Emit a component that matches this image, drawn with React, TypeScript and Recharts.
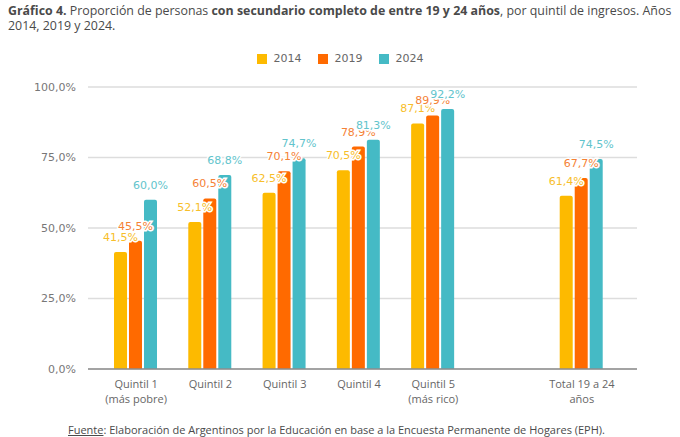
import * as React from "react";
import {
  BarChart,
  Bar,
  XAxis,
  YAxis,
  CartesianGrid,
  LabelList,
} from "recharts";

// categories (empty slot separates quintiles from the total)
const categories = [
  "Quintil 1\n(más pobre)",
  "Quintil 2",
  "Quintil 3",
  "Quintil 4",
  "Quintil 5\n(más rico)",
  " ",
  "Total 19 a 24\naños",
];

const values2014 = [41.5, 52.1, 62.5, 70.5, 87.1, null, 61.4];
const values2019 = [45.5, 60.5, 70.1, 78.9, 89.9, null, 67.7];
const values2024 = [60.0, 68.8, 74.7, 81.3, 92.2, null, 74.5];

const yTicks = [0, 25, 50, 75, 100];

const series = [
  { key: "y2014", name: "2014", color: "#FDBA00", label: "#F7BE2A" },
  { key: "y2019", name: "2019", color: "#FF6A00", label: "#F58236" },
  { key: "y2024", name: "2024", color: "#45BAC5", label: "#62C4CC" },
];

const data = categories.map((cat, i) => ({
  cat,
  y2014: values2014[i],
  y2019: values2019[i],
  y2024: values2024[i],
}));

const pct = (v: any) =>
  v == null ? "" : Number(v).toFixed(1).replace(".", ",") + "%";

const CategoryTick = (props: any) => {
  const { x, y, payload } = props;
  const lines = String(payload.value).split("\n");
  return (
    <text
      x={x}
      y={y + 11}
      textAnchor="middle"
      fill="#666"
      fontSize={11}
      fontFamily="Open Sans"
    >
      {lines.map((l, i) => (
        <tspan key={i} x={x} dy={i === 0 ? 0 : 15}>
          {l}
        </tspan>
      ))}
    </text>
  );
};

export default function App() {
  return (
    <div
      style={{
        position: "absolute",
        left: 0,
        top: 0,
        width: 680,
        height: 437,
        background: "#fff",
        fontFamily: "Open Sans",
        color: "#4a4a4a",
      }}
    >
      <div
        style={{
          position: "absolute",
          left: 8,
          top: 3,
          width: 672,
          fontSize: 12.4,
          lineHeight: "15px",
          whiteSpace: "nowrap",
        }}
      >
        <div>
          <b>Gráfico 4.</b>
          <span> Proporción de personas </span>
          <b>con secundario completo de entre 19 y 24 años</b>
          <span>, por quintil de ingresos. Años</span>
        </div>
        <div>2014, 2019 y 2024.</div>
      </div>

      <div
        style={{
          position: "absolute",
          top: 52,
          left: 0,
          width: 680,
          display: "flex",
          justifyContent: "center",
          fontFamily: "DejaVu Sans",
          fontSize: 11,
          color: "#666",
        }}
      >
        {series.map((s) => (
          <div
            key={s.key}
            style={{ display: "flex", alignItems: "center", margin: "0 8px" }}
          >
            <span
              style={{
                width: 10,
                height: 10,
                background: s.color,
                display: "inline-block",
                marginRight: 7,
              }}
            />
            {s.name}
          </div>
        ))}
      </div>

      <div style={{ position: "absolute", left: 0, top: 0 }}>
        <BarChart
          width={680}
          height={437}
          data={data}
          margin={{ top: 87, right: 43, bottom: 28, left: 8 }}
          barCategoryGap={15}
          barGap={2}
        >
          <CartesianGrid vertical={false} stroke="#dddddd" strokeWidth={1.3} />
          <XAxis
            dataKey="cat"
            interval={0}
            height={40}
            tick={<CategoryTick />}
            tickLine={false}
            axisLine={{ stroke: "#8c8c8c", strokeWidth: 1.5 }}
            padding={{ left: 11, right: 18 }}
          />
          <YAxis
            width={80}
            domain={[0, 100]}
            ticks={yTicks}
            tickFormatter={pct}
            axisLine={false}
            tickLine={false}
            tick={{ fill: "#777", fontSize: 11, fontFamily: "DejaVu Sans" }}
            tickMargin={6}
          />
          {series.map((s) => (
            <Bar
              key={s.key}
              dataKey={s.key}
              name={s.name}
              fill={s.color}
              radius={[2, 2, 0, 0]}
              isAnimationActive={false}
            >
              <LabelList
                dataKey={s.key}
                position="top"
                offset={11}
                formatter={pct}
                fill={s.label}
                fontSize={11}
                fontFamily="DejaVu Sans"
                stroke="#fff"
                strokeWidth={3}
                paintOrder="stroke"
              />
            </Bar>
          ))}
        </BarChart>
      </div>

      <div
        style={{
          position: "absolute",
          left: 68,
          top: 422,
          fontSize: 11,
          color: "#4a4a4a",
          whiteSpace: "nowrap",
        }}
      >
        <span style={{ textDecoration: "underline" }}>Fuente</span>
        <span>
          : Elaboración de Argentinos por la Educación en base a la Encuesta
          Permanente de Hogares (EPH).
        </span>
      </div>
    </div>
  );
}
